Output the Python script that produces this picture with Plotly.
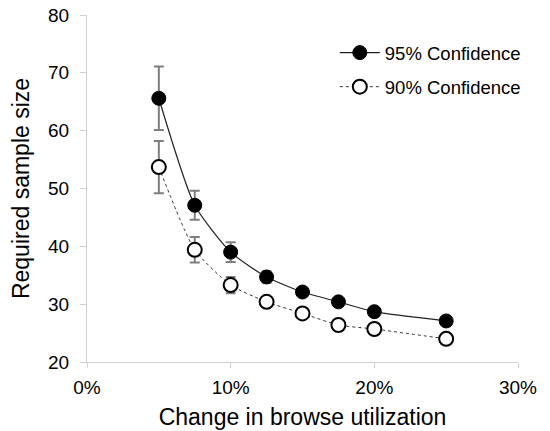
import plotly.graph_objects as go

change = [0.05, 0.075, 0.10, 0.125, 0.15, 0.175, 0.20, 0.25]
conf95 = [65.6, 47.1, 39.0, 34.7, 32.1, 30.4, 28.7, 27.1]
err95 = [5.5, 2.5, 1.7, 1.0, 0.7, 0.6, 0.5, 0.4]
conf90 = [53.7, 39.4, 33.3, 30.4, 28.4, 26.4, 25.7, 24.0]
err90 = [4.5, 2.2, 1.4, 0.8, 0.6, 0.5, 0.4, 0.3]

FONT = "Liberation Sans, Arial, sans-serif"

fig = go.Figure()
fig.add_trace(go.Scatter(
    x=change, y=conf95, name="95% Confidence", mode="lines+markers", legendgroup="a",
    line=dict(color="#222222", width=1.2, shape="spline", smoothing=0.6),
    marker=dict(symbol="circle", size=14, color="black", line=dict(color="black", width=1)),
    error_y=dict(type="data", array=err95, color="#7f7f7f", thickness=2, width=5),
))
fig.add_trace(go.Scatter(
    x=change, y=conf90, name="90% Confidence", mode="lines+markers", legendgroup="b",
    line=dict(color="#333333", width=1, dash="dot", shape="spline", smoothing=0.6),
    marker=dict(symbol="circle", size=14, color="white", line=dict(color="black", width=2)),
    error_y=dict(type="data", array=err90, color="#7f7f7f", thickness=2, width=5),
))

axis_common = dict(
    showgrid=False, zeroline=False, showline=True, linecolor="#d0d0d0", linewidth=1,
    ticks="outside", tickcolor="#d0d0d0", tickwidth=1, automargin=False,
    tickfont=dict(family=FONT, size=19, color="black"),
)
fig.update_xaxes(range=[0, 0.30], tickvals=[0, 0.1, 0.2, 0.3], tickformat=".0%",
                 ticklen=5, ticklabelstandoff=3,
                 title=dict(text="Change in browse utilization", font=dict(family=FONT, size=23, color="black"), standoff=12),
                 **axis_common)
fig.update_yaxes(range=[20, 80], tickvals=[20, 30, 40, 50, 60, 70, 80],
                 ticklen=6, ticklabelstandoff=7,
                 title=dict(text="Required sample size", font=dict(family=FONT, size=23, color="black"), standoff=12),
                 **axis_common)

fig.update_layout(
    width=550, height=431,
    margin=dict(l=87, r=32, t=15, b=69),
    plot_bgcolor="white", paper_bgcolor="white",
    font=dict(family=FONT, size=19, color="black"),
    legend=dict(x=0.575, y=0.945, xanchor="left", yanchor="top", bgcolor="rgba(0,0,0,0)",
                font=dict(family=FONT, size=18.5, color="black"), tracegroupgap=7,
                traceorder="grouped", itemwidth=40),
    showlegend=True,
)

fig.write_html("out.html")
